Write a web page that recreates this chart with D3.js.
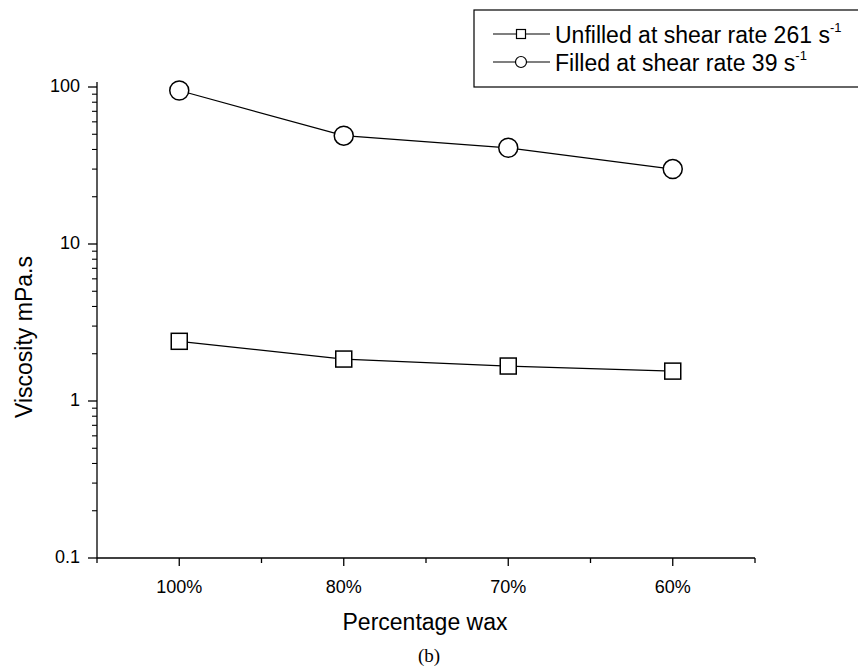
<!DOCTYPE html>
<html>
<head>
<meta charset="utf-8">
<script src="https://cdn.jsdelivr.net/npm/d3@7"></script>
<style>
  body { margin: 0; background: #fff; }
  text { font-family: "Liberation Sans", Arial, sans-serif; fill: #000; }
</style>
</head>
<body>
<svg width="858" height="671"></svg>
<script>
var categories = ["100%", "80%", "70%", "60%"];
var unfilled = [2.4, 1.85, 1.67, 1.55];
var filled = [95, 49, 41, 30];
var yTicks = [0.1, 1, 10, 100];

var svg = d3.select("svg"),
    pLeft = 97, pRight = 755, pTop = 87, pBottom = 558;

var x = d3.scaleLinear().domain([-0.5, categories.length - 0.5]).range([pLeft, pRight]);
var y = d3.scaleLog().domain([0.1, 100]).range([pBottom, pTop]);

// x axis
var xAxis = svg.append("g").attr("transform", "translate(0," + pBottom + ")");
xAxis.append("line").attr("x1", pLeft).attr("x2", pRight).attr("stroke", "#000").attr("stroke-width", 1.3);
xAxis.selectAll(".maj").data(categories).enter().append("line")
    .attr("x1", function(d, i) { return x(i); })
    .attr("x2", function(d, i) { return x(i); })
    .attr("y1", 0).attr("y2", 8).attr("stroke", "#000").attr("stroke-width", 1.3);
xAxis.selectAll(".min").data(d3.range(-0.5, categories.length, 1)).enter().append("line")
    .attr("x1", function(d) { return x(d); })
    .attr("x2", function(d) { return x(d); })
    .attr("y1", 0).attr("y2", 5).attr("stroke", "#000").attr("stroke-width", 1.3);
xAxis.selectAll(".lab").data(categories).enter().append("text")
    .attr("x", function(d, i) { return x(i); })
    .attr("y", 35).attr("text-anchor", "middle").attr("font-size", 18)
    .text(function(d) { return d; });

// y axis
var yAxis = svg.append("g");
yAxis.append("line").attr("x1", pLeft).attr("x2", pLeft).attr("y1", pTop - 5).attr("y2", pBottom)
    .attr("stroke", "#000").attr("stroke-width", 1.3);
var minors = [];
[0.1, 1, 10].forEach(function(d) { for (var k = 2; k <= 9; k++) minors.push(d * k); });
yAxis.selectAll(".ymin").data(minors).enter().append("line")
    .attr("x1", pLeft - 5).attr("x2", pLeft)
    .attr("y1", function(d) { return y(d); })
    .attr("y2", function(d) { return y(d); })
    .attr("stroke", "#000").attr("stroke-width", 1.1);
yAxis.selectAll(".ymaj").data(yTicks).enter().append("line")
    .attr("x1", pLeft - 9).attr("x2", pLeft)
    .attr("y1", function(d) { return y(d); })
    .attr("y2", function(d) { return y(d); })
    .attr("stroke", "#000").attr("stroke-width", 1.3);
yAxis.selectAll(".ylab").data(yTicks).enter().append("text")
    .attr("x", pLeft - 17)
    .attr("y", function(d) { return y(d) + 5; })
    .attr("text-anchor", "end").attr("font-size", 18)
    .text(function(d) { return d; });

svg.append("text").attr("transform", "translate(32,337) rotate(-90)")
    .attr("text-anchor", "middle").attr("font-size", 23).text("Viscosity mPa.s");
svg.append("text").attr("x", 425).attr("y", 630)
    .attr("text-anchor", "middle").attr("font-size", 23).text("Percentage wax");
svg.append("text").attr("x", 429).attr("y", 662)
    .attr("text-anchor", "middle").attr("font-size", 19)
    .style("font-family", "'Liberation Serif', 'Times New Roman', serif").text("(b)");

// series
var line = d3.line().x(function(d, i) { return x(i); }).y(function(d) { return y(d); });
[unfilled, filled].forEach(function(s) {
  svg.append("path").attr("d", line(s)).attr("fill", "none").attr("stroke", "#000").attr("stroke-width", 1.2);
});
svg.selectAll(".sq").data(unfilled).enter().append("rect")
    .attr("x", function(d, i) { return x(i) - 8; })
    .attr("y", function(d) { return y(d) - 8; })
    .attr("width", 16).attr("height", 16)
    .attr("fill", "#fff").attr("stroke", "#000").attr("stroke-width", 1.5);
svg.selectAll(".ci").data(filled).enter().append("circle")
    .attr("cx", function(d, i) { return x(i); })
    .attr("cy", function(d) { return y(d); })
    .attr("r", 9.5)
    .attr("fill", "#fff").attr("stroke", "#000").attr("stroke-width", 1.5);

// legend
var lg = svg.append("g");
lg.append("rect").attr("x", 474).attr("y", 10).attr("width", 390).attr("height", 77)
    .attr("fill", "#fff").attr("stroke", "#000").attr("stroke-width", 1.2);
var items = [
  { label: "Unfilled at shear rate 261 s", shape: "square" },
  { label: "Filled at shear rate 39 s", shape: "circle" }
];
items.forEach(function(it, i) {
  var cy = 34 + i * 28;
  lg.append("line").attr("x1", 493).attr("x2", 550).attr("y1", cy).attr("y2", cy)
      .attr("stroke", "#000").attr("stroke-width", 1.1);
  if (it.shape == "square") {
    lg.append("rect").attr("x", 516.5).attr("y", cy - 4.5).attr("width", 9).attr("height", 9)
        .attr("fill", "#fff").attr("stroke", "#000").attr("stroke-width", 1.2);
  } else {
    lg.append("circle").attr("cx", 521).attr("cy", cy).attr("r", 5.5)
        .attr("fill", "#fff").attr("stroke", "#000").attr("stroke-width", 1.2);
  }
  var t = lg.append("text").attr("x", 555).attr("y", cy + 8.5).attr("font-size", 23).text(it.label);
  t.append("tspan").attr("font-size", 13).attr("dy", -11).text("-1");
});
</script>
</body>
</html>
